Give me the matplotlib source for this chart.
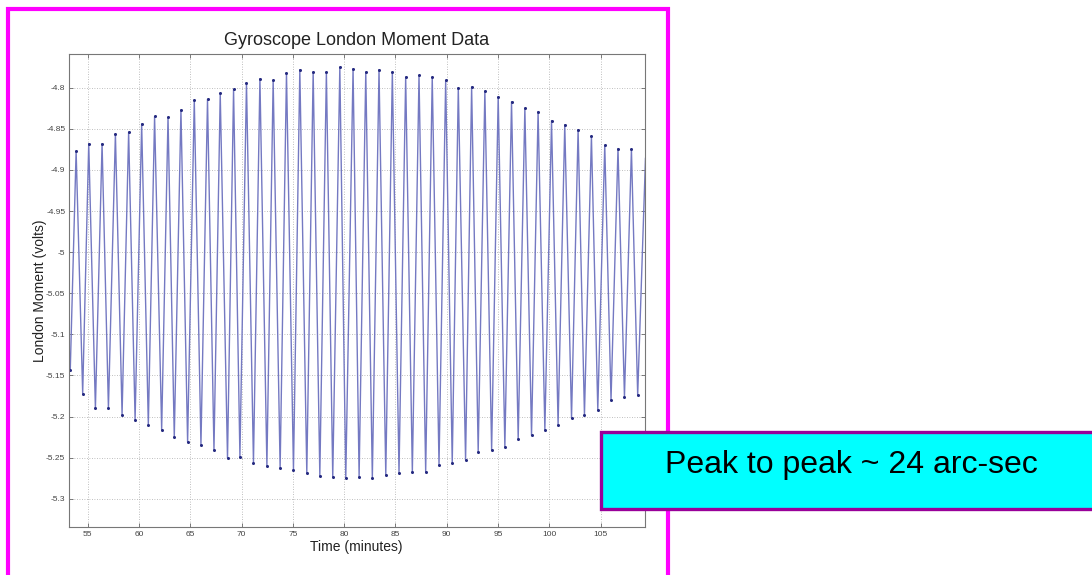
import numpy as np
import matplotlib.pyplot as plt
from matplotlib.patches import Rectangle

plt.rcParams['font.family'] = ['Liberation Sans', 'DejaVu Sans']

# London moment signal: turning points of each cycle (minutes, volts)
peak_time = [53.87, 55.10, 56.40, 57.70, 58.99, 60.26, 61.52, 62.83, 64.09, 65.39,
             66.68, 67.92, 69.22, 70.48, 71.79, 73.08, 74.38, 75.68, 76.98, 78.27,
             79.58, 80.87, 82.11, 83.40, 84.70, 86.00, 87.30, 88.59, 89.90, 91.13,
             92.43, 93.72, 95.02, 96.32, 97.62, 98.91, 100.22, 101.51, 102.81, 104.11,
             105.41, 106.70, 108.01]
peak_volts = [-4.877, -4.868, -4.868, -4.856, -4.854, -4.844, -4.835, -4.836, -4.827, -4.815,
              -4.814, -4.807, -4.802, -4.794, -4.789, -4.791, -4.782, -4.778, -4.781, -4.781,
              -4.775, -4.777, -4.781, -4.778, -4.781, -4.787, -4.785, -4.787, -4.791, -4.800,
              -4.799, -4.804, -4.811, -4.817, -4.825, -4.829, -4.840, -4.845, -4.851, -4.859,
              -4.870, -4.874, -4.875]
trough_time = [53.30, 54.51, 55.75, 57.02, 58.35, 59.62, 60.91, 62.21, 63.44, 64.74,
               66.04, 67.31, 68.63, 69.84, 71.16, 72.47, 73.76, 75.06, 76.36, 77.63,
               78.89, 80.16, 81.46, 82.75, 84.06, 85.35, 86.65, 87.95, 89.25, 90.54,
               91.84, 93.07, 94.38, 95.67, 96.97, 98.27, 99.57, 100.86, 102.17, 103.43,
               104.73, 106.02, 107.33, 108.62]
trough_volts = [-5.143, -5.172, -5.190, -5.190, -5.198, -5.204, -5.210, -5.216, -5.225, -5.231,
                -5.235, -5.241, -5.251, -5.249, -5.256, -5.260, -5.263, -5.265, -5.269, -5.272,
                -5.274, -5.275, -5.273, -5.275, -5.271, -5.269, -5.268, -5.267, -5.259, -5.257,
                -5.253, -5.243, -5.241, -5.237, -5.227, -5.223, -5.216, -5.210, -5.202, -5.198,
                -5.192, -5.180, -5.176, -5.174]
# last sample at the end of the record
end_time = [109.38]
end_volts = [-4.886]

x_ticks = [55, 60, 65, 70, 75, 80, 85, 90, 95, 100, 105]
y_ticks = [-5.3, -5.25, -5.2, -5.15, -5.1, -5.05, -5.0, -4.95, -4.9, -4.85, -4.8]
y_labels = ['-5.3', '-5.25', '-5.2', '-5.15', '-5.1', '-5.05', '-5', '-4.95', '-4.9', '-4.85', '-4.8']

t = np.concatenate([trough_time, peak_time, end_time])
v = np.concatenate([trough_volts, peak_volts, end_volts])
order = np.argsort(t)
t, v = t[order], v[order]

fig = plt.figure(figsize=(10.92, 5.75), dpi=100)
fig.patch.set_facecolor('white')

ax = fig.add_axes([0.0636, 0.0840, 0.5275, 0.8221])
ax.plot(t, v, color='#7479c2', lw=1.0)
ax.plot(peak_time + trough_time, peak_volts + trough_volts, ls='none',
        marker='o', ms=2.2, mew=0, color='#252a80')

ax.set_xlim(53.22, 109.38)
ax.set_ylim(-5.334, -4.759)
ax.set_xticks(x_ticks)
ax.set_yticks(y_ticks)
ax.set_yticklabels(y_labels)
ax.tick_params(direction='in', length=3, width=0.6, top=True, right=True,
               labelsize=6, labelcolor='#444444', color='#666666', pad=3)
ax.grid(True, color='#aaaaaa', lw=0.6, ls=(0, (1, 2)))
for s in ax.spines.values():
    s.set_color('#777777')
    s.set_linewidth(0.8)

fig.text(356.7 / 1092, 1 - 45 / 575, 'Gyroscope London Moment Data',
         ha='center', va='baseline', fontsize=13, color='#222222')
fig.text(356.5 / 1092, 1 - 550.7 / 575, 'Time (minutes)',
         ha='center', va='baseline', fontsize=10, color='#222222')
fig.text(40 / 1092, 1 - 291 / 575, 'London Moment (volts)', rotation=90,
         ha='center', va='center', fontsize=10, color='#222222')

# magenta slide frame around the chart
fig.patches.append(Rectangle((7.5 / 1092, -0.05), 660 / 1092, 1.05 - 8.5 / 575,
                             transform=fig.transFigure, fill=False,
                             edgecolor='#ff00ff', lw=3, zorder=5))

# annotation box
fig.patches.append(Rectangle((601 / 1092, 1 - 509 / 575), 500 / 1092, 77.5 / 575,
                             transform=fig.transFigure, facecolor='#00ffff',
                             edgecolor='#990099', lw=2.4, zorder=6))
fig.text(851.5 / 1092, 1 - 473.3 / 575, 'Peak to peak ~ 24 arc-sec',
         ha='center', va='baseline', fontsize=23, color='black', zorder=7)

fig.savefig('out.png', dpi=100)
